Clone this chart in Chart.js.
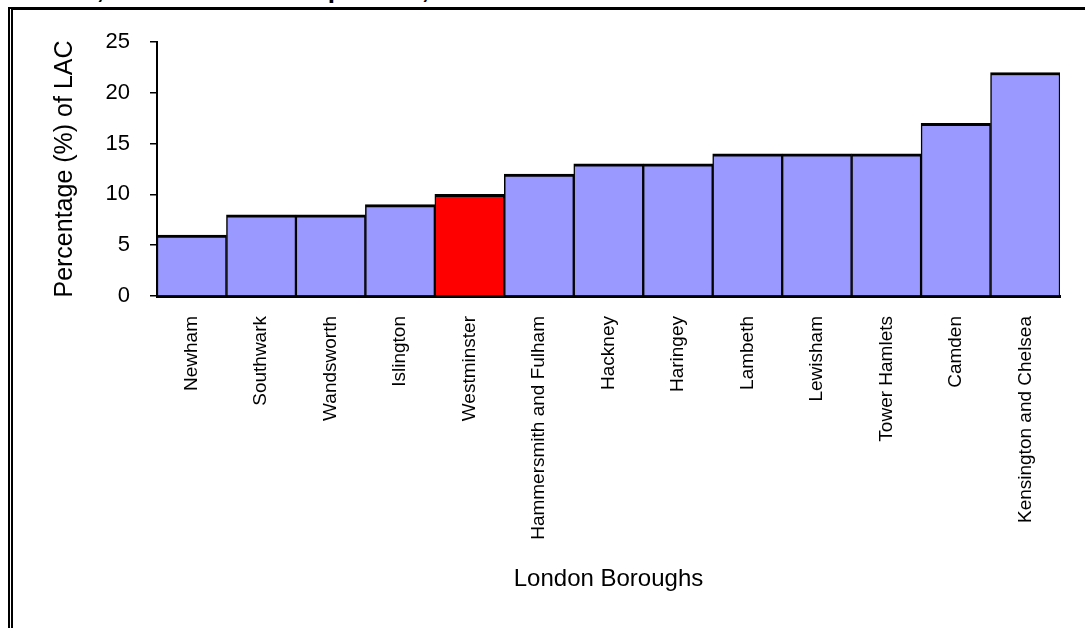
<!DOCTYPE html>
<html>
<head>
<meta charset="utf-8">
<script src="https://cdn.jsdelivr.net/npm/chart.js@4"></script>
<style>
  html, body { margin: 0; padding: 0; background: #fff; overflow: hidden; }
  #wrap { position: relative; width: 1085px; height: 628px; overflow: hidden; }
  #titulo {
    position: absolute; left: 10px; top: -24px; white-space: nowrap;
    font: bold 26px 'Liberation Sans', Arial, sans-serif; line-height: 26px; color: #000;
  }
  #marco {
    position: absolute; left: 8px; top: 7px; width: 1200px; height: 800px;
    border-top: 3px solid #000; border-left: 5px double #000;
  }
  #grafica { position: absolute; left: 0; top: 0; width: 1085px; height: 628px; }
</style>
</head>
<body>
<div id="wrap">
  <div id="titulo">School, London LAC comparison, 2005</div>
  <div id="marco"></div>
  <div id="grafica"><canvas id="myChart"></canvas></div>
</div>
<script>
const distritos = ['Newham', 'Southwark', 'Wandsworth', 'Islington', 'Westminster',
  'Hammersmith and Fulham', 'Hackney', 'Haringey', 'Lambeth', 'Lewisham',
  'Tower Hamlets', 'Camden', 'Kensington and Chelsea'];
const porcentajes = [6, 8, 8, 9, 10, 12, 13, 13, 14, 14, 14, 17, 22];
const destacado = 'Westminster';
const ticksY = [0, 5, 10, 15, 20, 25];

const fuente = "'Liberation Sans', Arial, sans-serif";
const colores = distritos.map(d => d === destacado ? '#ff0000' : '#9999ff');

const ctx = document.getElementById('myChart').getContext('2d');
const myChart = new Chart(ctx, {
    type: 'bar',
    data: {
        labels: distritos,
        datasets: [{
            data: porcentajes,
            backgroundColor: colores,
            borderColor: '#000',
            borderWidth: { top: 3, left: 1.5, right: 1.5, bottom: 0 },
            borderSkipped: 'start',
            barPercentage: 1,
            categoryPercentage: 1
        }]
    },
    options: {
        responsive: true,
        maintainAspectRatio: false,
        animation: false,
        layout: { padding: { left: 0, top: 42, right: 25, bottom: 0 } },
        plugins: { legend: { display: false }, tooltip: { enabled: false } },
        scales: {
            x: {
                afterFit: s => { s.height = 332; },
                grid: { display: true, drawOnChartArea: false, drawTicks: false },
                border: { display: true, color: '#000', width: 3 },
                ticks: {
                    color: '#000', minRotation: 90, maxRotation: 90, padding: 20,
                    autoSkip: false, font: { family: fuente, size: 19 }
                },
                title: {
                    display: true, text: 'London Boroughs', color: '#000',
                    font: { family: fuente, size: 24 }, padding: { top: 0, bottom: 34 }
                }
            },
            y: {
                min: 0,
                max: 25,
                afterFit: s => { s.width = 157; },
                afterBuildTicks: s => { s.ticks = ticksY.map(v => ({ value: v })); },
                grid: { display: true, drawOnChartArea: false, drawTicks: true, tickLength: 7, color: '#000', lineWidth: 1.5 },
                border: { display: true, color: '#000', width: 2 },
                ticks: { color: '#000', padding: 20, font: { family: fuente, size: 22 } },
                title: {
                    display: true, text: 'Percentage (%) of LAC', color: '#000',
                    font: { family: fuente, size: 25 }, padding: { top: 50, bottom: 0 }
                }
            }
        }
    }
});
</script>
</body>
</html>
